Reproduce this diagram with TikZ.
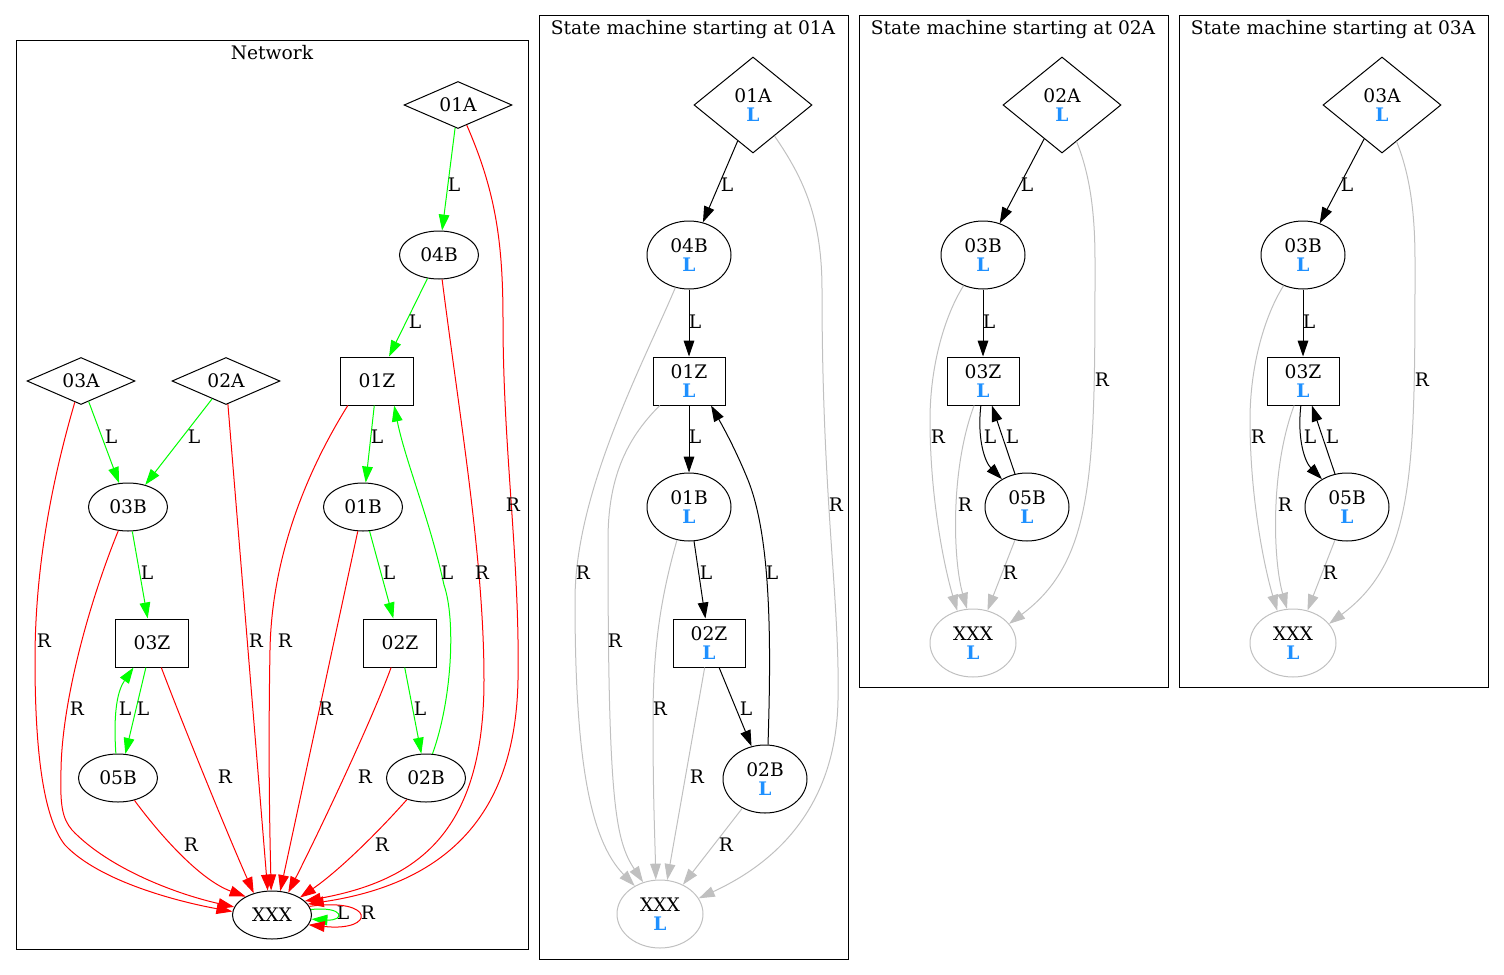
\documentclass[tikz,border=0pt]{standalone}
\usepackage{fontspec}
\setmainfont{DejaVu Serif}
\usepackage{xcolor}
\usetikzlibrary{shapes.geometric, arrows.meta}

\definecolor{lgreen}{HTML}{00FF00}
\definecolor{lred}{HTML}{FF0000}
\definecolor{lgray}{HTML}{C0C0C0}
\definecolor{lblue}{HTML}{1E90FF}
\newcommand{\lL}{\textcolor{lblue}{\bfseries L}}

\begin{document}
\begin{tikzpicture}[x=0.75pt, y=0.75pt, line width=0.75pt, font=\fontsize{14}{14.5}\selectfont,
	ndia/.style = {draw, diamond, shape aspect=2.3, inner sep=0pt, minimum width=81pt, minimum height=35.25pt},
	nell/.style = {draw, ellipse, inner sep=0pt, minimum width=59.25pt, minimum height=36pt},
	nbox/.style = {draw, rectangle, inner sep=0pt, minimum width=54.75pt, minimum height=36pt},
	sdia/.style = {draw, diamond, align=center, inner sep=0pt, minimum width=88.5pt, minimum height=72pt},
	sell/.style = {draw, ellipse, align=center, inner sep=0pt, minimum width=63pt, minimum height=51pt},
	xell/.style = {sell, draw=lgray, minimum width=64.5pt},
	sbox/.style = {draw, rectangle, align=center, inner sep=0pt, minimum width=54pt, minimum height=36pt},
	ttl/.style = {inner sep=0pt},
	lbl/.style = {inner sep=0pt},
	panel/.style = {draw=black, line width=0.75pt},
	tip/.style = {-{Triangle[length=12pt, width=8pt]}},
	ledge/.style = {tip, draw=lgreen},
	redge/.style = {tip, draw=lred},
	bedge/.style = {tip, draw=black},
	wedge/.style = {tip, draw=lgray}]
	\useasboundingbox (0,0) rectangle (1504,-975);

	% frames
	\draw[panel] (16,-40) rectangle (528,-949);
	\draw[panel] (539,-15) rectangle (848,-959);
	\draw[panel] (859,-15) rectangle (1168,-687);
	\draw[panel] (1179,-15) rectangle (1488,-687);
	\node[ttl] (tnet) at (272,-53) {Network};
	\node[ttl] (ta) at (693,-29) {State machine starting at 01A};
	\node[ttl] (tb) at (1013,-29) {State machine starting at 02A};
	\node[ttl] (tc) at (1333,-29) {State machine starting at 03A};

	% network
	\node[ndia] (n01A) at (458,-105) {01A};
	\node[nell] (n04B) at (439,-255) {04B};
	\node[nbox] (n01Z) at (377,-381) {01Z};
	\node[ndia] (n03A) at (81,-381) {03A};
	\node[ndia] (n02A) at (226,-381) {02A};
	\node[nell] (n03B) at (128,-507) {03B};
	\node[nell] (n01B) at (363,-507) {01B};
	\node[nbox] (n03Z) at (152,-643) {03Z};
	\node[nbox] (n02Z) at (400,-643) {02Z};
	\node[nell] (n05B) at (118,-778) {05B};
	\node[nell] (n02B) at (426,-778) {02B};
	\node[nell] (nXXX) at (272,-915) {XXX};

	\draw[ledge] (n01A) -- (n04B) node[lbl] at (454,-185) {L};
	\draw[redge] (n01A) .. controls (495,-190) and (503,-240) .. (503,-320) .. controls (503,-450) and (520,-560) .. (518,-680) .. controls (516,-790) and (470,-880) .. (nXXX.17) node[lbl] at (513,-505) {R};
	\draw[ledge] (n04B) -- (n01Z) node[lbl] at (415,-322) {L};
	\draw[redge] (n04B) .. controls (460,-420) and (484,-560) .. (484,-680) .. controls (484,-830) and (420,-880) .. (nXXX.23) node[lbl] at (482,-573) {R};
	\draw[ledge] (n03A) -- (n03B) node[lbl] at (111,-437) {L};
	\draw[redge] (n03A) .. controls (55,-470) and (35,-560) .. (35,-660) .. controls (35,-760) and (45,-820) .. (65,-845) .. controls (100,-882) and (180,-902) .. (nXXX.175) node[lbl] at (44,-641) {R};
	\draw[ledge] (n02A) -- (n03B) node[lbl] at (194,-437) {L};
	\draw[redge] (n02A) -- (nXXX.100) node[lbl] at (256,-641) {R};
	\draw[ledge] (n01Z) -- (n01B) node[lbl] at (377,-437) {L};
	\draw[redge] (n01Z.220) .. controls (320,-450) and (272,-540) .. (270,-650) .. controls (268,-760) and (270,-840) .. (nXXX.92) node[lbl] at (285,-641) {R};
	\draw[ledge] (n02B.75) .. controls (452,-700) and (456,-620) .. (444,-585) .. controls (430,-520) and (405,-460) .. (n01Z.305) node[lbl] at (447,-573) {L};
	\draw[ledge] (n03B) -- (n03Z) node[lbl] at (147,-573) {L};
	\draw[redge] (n03B) .. controls (90,-600) and (62,-700) .. (61,-770) .. controls (60,-805) and (62,-818) .. (72,-830) .. controls (110,-870) and (180,-895) .. (nXXX.168) node[lbl] at (77,-709) {R};
	\draw[ledge] (n03Z.256) -- (n05B.73) node[lbl] at (143,-709) {L};
	\draw[ledge] (n05B.95) .. controls (113,-710) and (118,-690) .. (n03Z.233) node[lbl] at (125,-709) {L};
	\draw[redge] (n03Z) .. controls (185,-730) and (230,-840) .. (nXXX.130) node[lbl] at (225,-777) {R};
	\draw[ledge] (n01B) -- (n02Z) node[lbl] at (389,-573) {L};
	\draw[redge] (n01B) -- (nXXX.71) node[lbl] at (326,-709) {R};
	\draw[ledge] (n02Z) -- (n02B) node[lbl] at (420,-709) {L};
	\draw[redge] (n02Z) .. controls (372,-720) and (320,-830) .. (nXXX.54) node[lbl] at (365,-777) {R};
	\draw[redge] (n05B) .. controls (160,-835) and (200,-880) .. (nXXX.145) node[lbl] at (191,-845) {R};
	\draw[redge] (n02B) .. controls (380,-830) and (340,-870) .. (nXXX.32) node[lbl] at (382,-845) {R};
	\draw[ledge] (nXXX.8) .. controls (345,-906) and (345,-921) .. (nXXX.-6) node[lbl] at (343,-913) {L};
	\draw[redge] (nXXX.13) .. controls (376,-897) and (376,-932) .. (nXXX.-15) node[lbl] at (368,-913) {R};

	% starting at 01A
	\node[sdia] (a01A) at (753,-105) {01A\\\lL};
	\node[sell] (a04B) at (689,-255) {04B\\\lL};
	\node[sbox] (a01Z) at (689,-381) {01Z\\\lL};
	\node[sell] (a01B) at (689,-507) {01B\\\lL};
	\node[sbox] (a02Z) at (709,-643) {02Z\\\lL};
	\node[sell] (a02B) at (765,-779) {02B\\\lL};
	\node[xell] (aXXX) at (660,-914) {XXX\\\lL};

	\draw[bedge] (a01A) -- (a04B) node[lbl] at (727,-185) {L};
	\draw[wedge] (a01A) .. controls (805,-180) and (822,-220) .. (822,-290) .. controls (822,-500) and (840,-600) .. (838,-700) .. controls (836,-820) and (760,-870) .. (aXXX.22) node[lbl] at (836,-505) {R};
	\draw[bedge] (a04B) -- (a01Z) node[lbl] at (695,-322) {L};
	\draw[wedge] (a04B) .. controls (645,-360) and (575,-490) .. (575,-600) .. controls (575,-760) and (590,-840) .. (aXXX.132) node[lbl] at (583,-573) {R};
	\draw[bedge] (a01Z) -- (a01B) node[lbl] at (695,-437) {L};
	\draw[wedge] (a01Z.220) .. controls (625,-440) and (608,-480) .. (608,-540) .. controls (608,-800) and (615,-840) .. (aXXX.118) node[lbl] at (615,-641) {R};
	\draw[bedge] (a01B) -- (a02Z) node[lbl] at (706,-573) {L};
	\draw[wedge] (a01B.250) .. controls (660,-600) and (653,-650) .. (653,-720) .. controls (653,-800) and (655,-840) .. (aXXX.97) node[lbl] at (660,-709) {R};
	\draw[bedge] (a02Z) -- (a02B) node[lbl] at (746,-709) {L};
	\draw[wedge] (a02Z.260) -- (aXXX.78) node[lbl] at (697,-777) {R};
	\draw[bedge] (a02B.85) .. controls (771,-650) and (772,-540) .. (748,-480) .. controls (735,-448) and (722,-425) .. (a01Z.312) node[lbl] at (772,-573) {L};
	\draw[wedge] (a02B) -- (aXXX.52) node[lbl] at (726,-845) {R};

	% starting at 02A
	\node[sdia] (b02A) at (1062,-105) {02A\\\lL};
	\node[sell] (b03B) at (983,-255) {03B\\\lL};
	\node[sbox] (b03Z) at (983,-381) {03Z\\\lL};
	\node[sell] (b05B) at (1027,-507) {05B\\\lL};
	\node[xell] (bXXX) at (973,-643) {XXX\\\lL};

	\draw[bedge] (b02A) -- (b03B) node[lbl] at (1027,-185) {L};
	\draw[wedge] (b02A) .. controls (1088,-170) and (1095,-205) .. (1095,-260) .. controls (1095,-470) and (1095,-560) .. (bXXX.28) node[lbl] at (1102,-380) {R};
	\draw[bedge] (b03B) -- (b03Z) node[lbl] at (989,-322) {L};
	\draw[wedge] (b03B) .. controls (945,-315) and (930,-365) .. (930,-420) .. controls (930,-500) and (945,-570) .. (bXXX.116) node[lbl] at (938,-437) {R};
	\draw[bedge] (b03Z.265) .. controls (977,-440) and (985,-462) .. (b05B.132) node[lbl] at (990,-437) {L};
	\draw[bedge] (b05B.110) -- (b03Z.290) node[lbl] at (1012,-437) {L};
	\draw[wedge] (b03Z.250) .. controls (950,-470) and (953,-560) .. (bXXX.100) node[lbl] at (965,-505) {R};
	\draw[wedge] (b05B.250) -- (bXXX.66) node[lbl] at (1010,-573) {R};

	% starting at 03A
	\node[sdia] (c03A) at (1382,-105) {03A\\\lL};
	\node[sell] (c03B) at (1303,-255) {03B\\\lL};
	\node[sbox] (c03Z) at (1303,-381) {03Z\\\lL};
	\node[sell] (c05B) at (1347,-507) {05B\\\lL};
	\node[xell] (cXXX) at (1293,-643) {XXX\\\lL};

	\draw[bedge] (c03A) -- (c03B) node[lbl] at (1347,-185) {L};
	\draw[wedge] (c03A) .. controls (1408,-170) and (1415,-205) .. (1415,-260) .. controls (1415,-470) and (1415,-560) .. (cXXX.28) node[lbl] at (1422,-380) {R};
	\draw[bedge] (c03B) -- (c03Z) node[lbl] at (1309,-322) {L};
	\draw[wedge] (c03B) .. controls (1265,-315) and (1250,-365) .. (1250,-420) .. controls (1250,-500) and (1265,-570) .. (cXXX.116) node[lbl] at (1258,-437) {R};
	\draw[bedge] (c03Z.265) .. controls (1297,-440) and (1305,-462) .. (c05B.132) node[lbl] at (1310,-437) {L};
	\draw[bedge] (c05B.110) -- (c03Z.290) node[lbl] at (1332,-437) {L};
	\draw[wedge] (c03Z.250) .. controls (1270,-470) and (1273,-560) .. (cXXX.100) node[lbl] at (1285,-505) {R};
	\draw[wedge] (c05B.250) -- (cXXX.66) node[lbl] at (1330,-573) {R};
\end{tikzpicture}
\end{document}
